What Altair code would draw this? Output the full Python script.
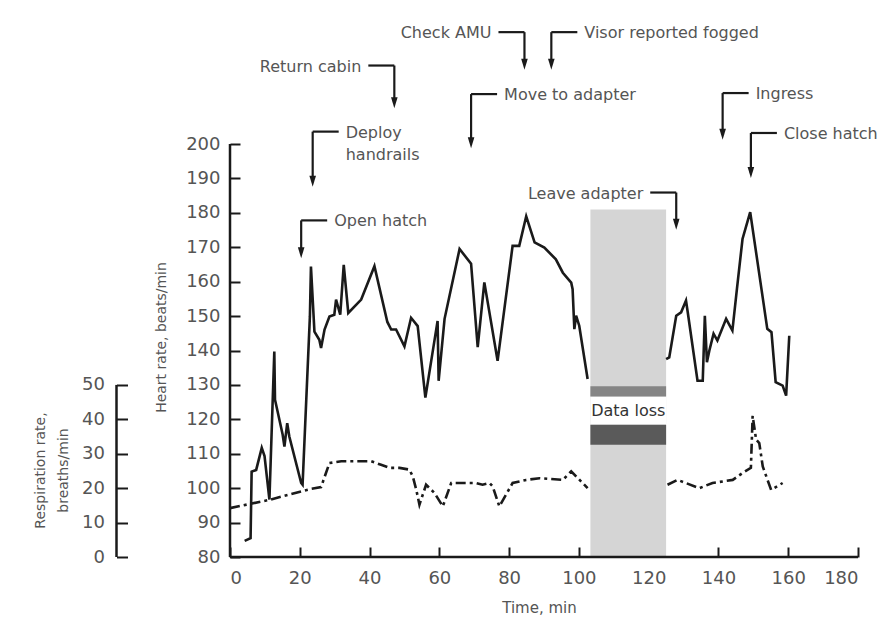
import altair as alt
import pandas as pd

# Heart rate, beats/min, against elapsed time in minutes
hr_time = [4.2, 5.9, 6.2, 7.5, 9.1, 9.9, 11.3, 12.7, 12.9, 15.1, 15.6, 16.4, 17.0,
           20.4, 20.8, 22.9, 23.2, 24.2, 25.6, 26.1, 27.1, 28.5, 29.9, 30.4, 31.6,
           32.6, 33.9, 37.6, 41.4, 45.1, 46.2, 47.6, 50.0, 51.9, 53.8, 56.0, 59.5,
           59.8, 61.5, 65.8, 69.1, 71.0, 72.9, 76.7, 81.0, 82.9, 84.9, 87.3, 90.1,
           93.4, 95.4, 97.8, 98.2, 98.7, 99.2, 100.1, 102.5,
           125.0, 125.9, 127.9, 129.3, 130.7, 131.2, 134.0, 135.5, 136.1, 136.7,
           137.4, 138.6, 139.7, 142.2, 144.0, 145.3, 146.9, 149.1, 154.0, 155.2,
           156.4, 158.4, 159.4, 160.3]
hr_rate = [84.7, 85.5, 104.8, 105.3, 111.7, 109.3, 96.7, 139.7, 125.7, 115.5, 112.1, 118.9, 115.0,
           101.5, 101.0, 149.9, 164.4, 145.5, 143.1, 140.7, 146.1, 149.9, 150.4, 154.8, 150.4,
           164.9, 150.9, 154.8, 164.5, 148.3, 146.1, 146.1, 141.2, 149.5, 147.1, 126.3, 148.6,
           131.2, 149.2, 169.5, 165.2, 141.0, 159.8, 137.0, 170.4, 170.4, 179.0, 171.4, 169.9,
           166.5, 162.6, 159.7, 157.8, 146.2, 150.1, 147.2, 131.7,
           137.5, 138.0, 150.1, 151.1, 154.5, 151.1, 131.2, 131.2, 150.1, 136.6,
           140.0, 144.9, 142.9, 149.2, 145.8, 157.9, 172.4, 180.2, 146.3, 145.3,
           130.8, 129.8, 126.9, 144.3]

# Respiration rate, breaths/min
resp_time = [0.0, 11.3, 22.8, 26.1, 28.5, 31.9, 40.5, 43.3, 45.7, 48.6, 51.4, 52.4, 53.4,
             54.3, 56.2, 58.6, 61.0, 63.4, 67.7, 70.5, 72.4, 74.4, 75.3, 77.2, 81.0, 84.9,
             88.7, 95.4, 97.8, 102.5,
             125.4, 128.3, 134.5, 138.3, 144.1, 146.9, 149.3, 149.8, 150.8, 151.7, 152.7,
             155.1, 158.4]
resp_rate = [14.2, 16.6, 19.7, 20.3, 27.3, 27.8, 27.8, 26.8, 25.9, 25.9, 25.4, 23.4, 19.5,
             15.2, 21.0, 18.6, 14.7, 21.5, 21.5, 21.5, 21.0, 21.5, 20.5, 14.7, 21.5, 22.4,
             22.9, 22.4, 24.9, 20.0,
             21.0, 22.4, 20.0, 21.5, 22.4, 24.4, 25.9, 41.0, 34.1, 33.1, 26.3,
             19.5, 21.5]

# Mission events
event_text = ["Open hatch", "Deploy\nhandrails", "Return cabin", "Move to adapter",
              "Check AMU", "Visor reported fogged", "Leave adapter", "Ingress", "Close hatch"]
event_time = [20.4, 23.7, 47.1, 69.1, 84.4, 92.1, 127.9, 141.2, 149.3]

# Telemetry gap
loss_start, loss_end = 103.3, 125.0

time_ticks = list(range(0, 181, 20))
hr_ticks = list(range(80, 201, 10))
resp_ticks = list(range(0, 51, 10))

# Callout placement: which side the caption sits on, bracket height and arrow tip
# (heights expressed on the heart-rate scale)
callout_side = [1, 1, -1, 1, -1, 1, -1, 1, 1]
callout_top = [177.8, 203.6, 222.8, 214.5, 232.5, 232.5, 185.9, 214.8, 203.2]
callout_tip = [166.8, 187.6, 210.4, 198.8, 221.6, 221.6, 175.1, 201.2, 190.1]

W, H = 628, 413
PX_PER_MIN = W / 180
PX_PER_BEAT = H / 120
ARM = 26 / PX_PER_MIN
GAP = 7 / PX_PER_MIN
HEAD = 5.5 / PX_PER_BEAT

FONT = "DejaVu Sans"
INK = "#1a1a1a"
GREY_TEXT = "#555555"

hr = pd.DataFrame({"t": hr_time, "v": hr_rate})
hr["run"] = (hr["t"] > loss_start).astype(int)
resp = pd.DataFrame({"t": resp_time, "v": resp_rate})
resp["run"] = (resp["t"] > loss_start).astype(int)

ev = pd.DataFrame({
    "label": event_text,
    "t": event_time,
    "side": callout_side,
    "top": callout_top,
    "tip": callout_tip,
})
ev["t_arm"] = ev["t"] + ev["side"] * ARM
ev["t_text"] = ev["t"] + ev["side"] * (ARM + GAP)
ev["head"] = ev["tip"] + HEAD

loss = pd.DataFrame({
    "t0": [loss_start] * 4,
    "t1": [loss_end] * 4,
    "y0": [80, 118.4, 126.6, 112.6],
    "y1": [181, 126.6, 129.6, 118.4],
    "fill": ["#d5d5d5", "#ffffff", "#858585", "#5a5a5a"],
})
loss_label = pd.DataFrame({"t": [(loss_start + loss_end) / 2], "v": [122.5], "text": ["Data loss"]})

frame = pd.DataFrame({"t0": [0, 0], "t1": [0, 180], "y0": [80, 80], "y1": [200, 80]})
resp_frame = pd.DataFrame({"y0": [0], "y1": [50]})

X_SCALE = alt.Scale(domain=[0, 180], nice=False, zero=False)
HR_SCALE = alt.Scale(domain=[80, 200], nice=False, zero=False)
RESP_SCALE = alt.Scale(domain=[0, 120], nice=False, zero=False)

x_axis = alt.Axis(
    values=time_ticks, orient="bottom", offset=-10, tickSize=10, tickWidth=2,
    tickColor=INK, domain=False, grid=False, labelFont=FONT, labelFontSize=18,
    labelColor=GREY_TEXT, labelPadding=12, title="Time, min", titleFont=FONT,
    titleFontSize=15, titleFontWeight="normal", titleColor=GREY_TEXT,
    titleX=309, titleY=60, titleBaseline="middle",
)
hr_axis = alt.Axis(
    values=hr_ticks, orient="left", offset=-10, tickSize=10, tickWidth=2,
    tickColor=INK, domain=False, grid=False, labelFont=FONT, labelFontSize=18,
    labelColor=GREY_TEXT, labelPadding=10, title="Heart rate, beats/min",
    titleFont=FONT, titleFontSize=14, titleFontWeight="normal", titleColor=GREY_TEXT,
    titleAngle=270, titleAlign="center", titleBaseline="top", titleX=-86, titleY=193,
)
resp_axis = alt.Axis(
    values=resp_ticks, orient="left", offset=102.5, tickSize=11, tickWidth=2,
    tickColor=INK, domain=False, grid=False, labelFont=FONT, labelFontSize=18,
    labelColor=GREY_TEXT, labelPadding=12, title=["Respiration rate,", "breaths/min"],
    titleFont=FONT, titleFontSize=14, titleFontWeight="normal", titleColor=GREY_TEXT,
    titleAngle=270, titleAlign="center", titleBaseline="top", titleLineHeight=23,
    titleX=-94, titleY=326,
)


def tx(field):
    return alt.X(field, type="quantitative", scale=X_SCALE, axis=x_axis)


def hy(field):
    return alt.Y(field, type="quantitative", scale=HR_SCALE, axis=hr_axis)


def ry(field):
    return alt.Y(field, type="quantitative", scale=RESP_SCALE, axis=resp_axis)


band = alt.Chart(loss).mark_rect().encode(
    x=tx("t0"), x2="t1:Q", y=hy("y0"), y2="y1:Q",
    color=alt.Color("fill:N", scale=None),
)
band_text = alt.Chart(loss_label).mark_text(
    font=FONT, fontSize=16, color="#333333", baseline="middle", align="center"
).encode(x=tx("t"), y=hy("v"), text="text:N")

axes_lines = alt.Chart(frame).mark_rule(color=INK, strokeWidth=2.5).encode(
    x=tx("t0"), x2="t1:Q", y=hy("y0"), y2="y1:Q",
)

hr_line = alt.Chart(hr).mark_line(color=INK, strokeWidth=2.6, strokeJoin="miter").encode(
    x=tx("t"), y=hy("v"), detail="run:N",
)

drop = alt.Chart(ev).mark_rule(color=INK, strokeWidth=2.2).encode(
    x=tx("t"), y=hy("top"), y2="head:Q",
)
arm = alt.Chart(ev).mark_rule(color=INK, strokeWidth=2.2).encode(
    x=tx("t"), x2="t_arm:Q", y=hy("top"),
)
heads = alt.Chart(ev).mark_point(
    shape="M-0.6,-1L0.6,-1L0,1Z", size=121, filled=True, color=INK, opacity=1, strokeWidth=0
).encode(x=tx("t"), y=hy("head"))


def captions(side, align):
    return alt.Chart(ev).transform_filter(alt.datum.side == side).mark_text(
        font=FONT, fontSize=16, color=GREY_TEXT, align=align, baseline="alphabetic",
        dy=6, lineBreak="\n", lineHeight=22,
    ).encode(x=tx("t_text"), y=hy("top"), text="label:N")


hr_group = alt.layer(
    band, band_text, axes_lines, hr_line, drop, arm, heads,
    captions(1, "left"), captions(-1, "right"),
)

resp_spine = alt.Chart(resp_frame).mark_rule(color=INK, strokeWidth=2.5).encode(
    x=alt.value(-113.5), y=ry("y0"), y2="y1:Q",
)
resp_line = alt.Chart(resp).mark_line(
    color=INK, strokeWidth=2.6, strokeDash=[10, 4, 3, 4]
).encode(x=tx("t"), y=ry("v"), detail="run:N")
resp_group = alt.layer(resp_spine, resp_line)

chart = alt.layer(hr_group, resp_group).resolve_scale(y="independent").properties(
    width=W,
    height=H,
    autosize=alt.AutoSizeParams(type="none"),
    padding={"left": 230, "top": 144, "right": 31, "bottom": 66},
    background="white",
).configure_view(stroke=None)

chart.save("out.html", embed_options={"renderer": "svg", "actions": False})
